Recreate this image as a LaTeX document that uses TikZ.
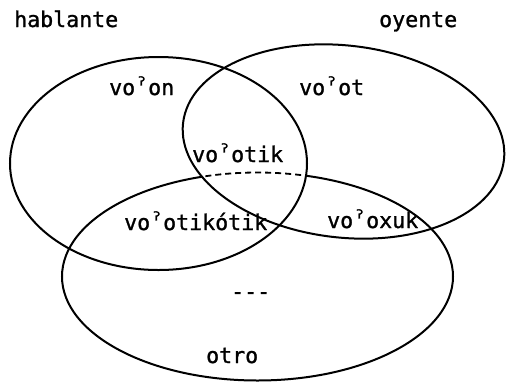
\documentclass[tikz,border=0pt]{standalone}
\usepackage{fontspec}
\newfontfamily\tw[FakeBold=1.2]{DejaVu Sans Mono}
% raised glottal stop mark
\newcommand\gs{ˀ}
\begin{document}
\begin{tikzpicture}[x=1pt,y=-1pt,
  lbl/.style={font=\tw\fontsize{21.6}{24}\selectfont,anchor=base west,inner sep=0pt},
  ring/.style={line width=2pt},
  hidden/.style={line width=1.8pt,dash pattern=on 6pt off 4pt}]
\useasboundingbox (0,0) rectangle (509,384);

% otro
\draw[ring] (257.5,276.5) ellipse [x radius=195.5, y radius=104];
% part of otro lying inside hablante and oyente is dashed
\begin{scope}
  \clip (158.5,163.5) ellipse [x radius=148.5, y radius=106.5];
  \clip[rotate around={-6.6:(343.5,141.5)}] (343.5,141.5) ellipse [x radius=161.5, y radius=96];
  \draw[white,line width=4.5pt] (257.5,276.5) ellipse [x radius=195.5, y radius=104];
  \draw[hidden] (257.5,276.5) ellipse [x radius=195.5, y radius=104];
\end{scope}
% hablante
\draw[ring] (158.5,163.5) ellipse [x radius=148.5, y radius=106.5];
% oyente
\draw[ring,rotate around={-6.6:(343.5,141.5)}] (343.5,141.5) ellipse [x radius=161.5, y radius=96];

\node[lbl] (hab) at (14,27) {hablante};
\node[lbl] (oye) at (379,27) {oyente};
\node[lbl] (von) at (109,95) {vo\gs on};
\node[lbl] (vot) at (299,95) {vo\gs ot};
\node[lbl] (votik) at (192,162) {vo\gs otik};
\node[lbl] (votikotik) at (124,230) {vo\gs otikótik};
\node[lbl] (voxuk) at (327,228) {vo\gs oxuk};
\node[lbl] (none) at (231,299) {\mbox{-}\mbox{-}\mbox{-}};
\node[lbl] (otro) at (206,363) {otro};
\end{tikzpicture}
\end{document}
